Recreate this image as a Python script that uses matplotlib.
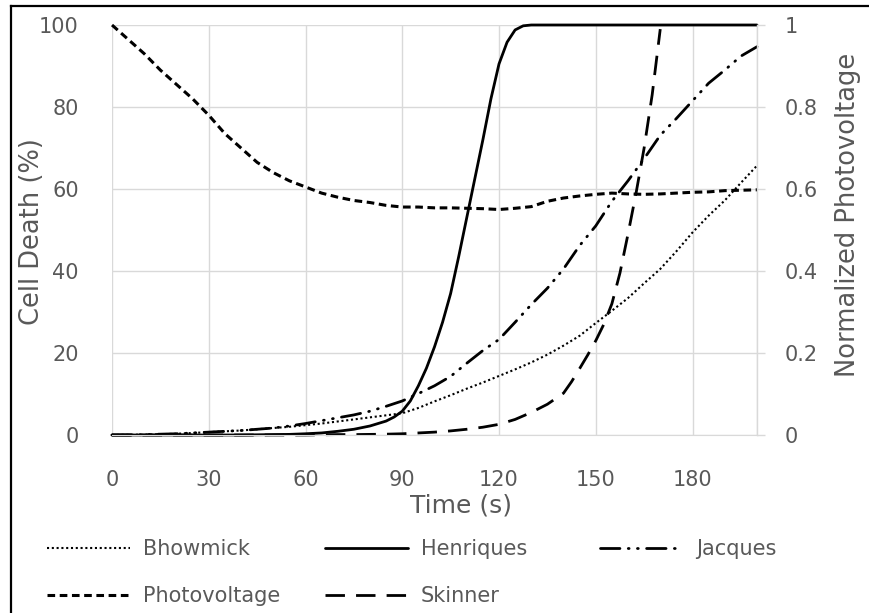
import matplotlib
matplotlib.use("Agg")
import matplotlib.pyplot as plt
from matplotlib.lines import Line2D

# sample times (s)
time = [0, 5, 10, 15, 20, 25, 30, 35, 40, 45, 50, 55, 60, 65, 70, 75, 80, 85, 90, 95, 100,
        105, 110, 115, 120, 125, 130, 135, 140, 145, 150, 155, 160, 165, 170, 175, 180, 185,
        190, 195, 200]

# cell death (%) per model
bhowmick = [0, 0.05, 0.1, 0.2, 0.3, 0.5, 0.7, 0.9, 1.1, 1.4, 1.7, 2.0, 2.4, 2.8, 3.3, 3.8,
            4.3, 4.8, 5.3, 6.6, 8.2, 9.7, 11.3, 12.8, 14.4, 16.0, 17.7, 19.6, 21.8, 24.2,
            27.3, 30.3, 33.4, 37.0, 40.5, 44.8, 49.4, 53.5, 57.2, 61.5, 65.7]
jacques = [0, 0, 0.1, 0.2, 0.3, 0.5, 0.7, 0.9, 1.1, 1.4, 1.7, 2.2, 2.8, 3.5, 4.2, 4.9, 5.8,
           7.0, 8.3, 10.1, 12.0, 14.3, 17.5, 20.6, 23.3, 27.5, 31.8, 35.8, 40.5, 46.2, 51.0,
           57.0, 62.0, 67.4, 73.1, 77.2, 81.5, 85.8, 89.0, 92.4, 94.7]

# henriques sampled more densely through the steep rise
henriques_time = [0, 10, 20, 30, 40, 45, 50, 55, 60, 65, 70, 75, 80, 85, 87.5, 90, 92.5, 95,
                  97.5, 100, 102.5, 105, 107.5, 110, 112.5, 115, 117.5, 120, 122.5, 125,
                  127.5, 130, 140, 150, 160, 170, 180, 190, 200]
henriques = [0, 0, 0, 0, 0, 0.05, 0.1, 0.15, 0.3, 0.5, 0.9, 1.4, 2.2, 3.4, 4.4, 5.8, 8.3,
             12.0, 16.3, 21.5, 27.5, 34.5, 43.5, 53.0, 62.5, 72.0, 82.0, 90.5, 95.8, 98.8,
             99.8, 100, 100, 100, 100, 100, 100, 100, 100]

# skinner stops at 170 s
skinner_time = [0, 10, 20, 30, 40, 50, 60, 65, 70, 75, 80, 85, 90, 95, 100, 105, 110, 115,
                120, 125, 130, 135, 140, 142.5, 145, 147.5, 150, 152.5, 155, 157.5, 160,
                162.5, 165, 167.5, 170]
skinner = [0, 0, 0, 0, 0, 0, 0, 0.05, 0.1, 0.1, 0.15, 0.2, 0.3, 0.5, 0.7, 1.0, 1.4, 1.9,
           2.6, 3.8, 5.5, 7.5, 10.2, 13.0, 16.2, 19.5, 23.0, 27.0, 32.0, 39.5, 49.0, 59.0,
           70.0, 83.0, 99.0]

# normalized photovoltage (right axis)
photovoltage = [1.0, 0.965, 0.93, 0.89, 0.855, 0.82, 0.78, 0.735, 0.70, 0.665, 0.64, 0.62,
                0.605, 0.59, 0.58, 0.572, 0.567, 0.56, 0.556, 0.556, 0.554, 0.554, 0.553,
                0.552, 0.55, 0.553, 0.557, 0.57, 0.578, 0.583, 0.587, 0.59, 0.588, 0.587,
                0.588, 0.59, 0.592, 0.593, 0.596, 0.597, 0.598]

W, H = 869, 613
GREY = "#595959"
GRID = "#d9d9d9"

plt.rcParams["font.family"] = "DejaVu Sans"

fig = plt.figure(figsize=(W / 100, H / 100), dpi=100)

def fx(px):
    return px / W

def fy(py):
    return 1 - py / H

ax = fig.add_axes([fx(112), fy(435), fx(757) - fx(112), fy(25) - fy(435)])
ax2 = ax.twinx()

ax.set_xlim(0, 200)
ax.set_ylim(0, 100)
ax2.set_ylim(0, 1)

ax.set_xticks([0, 30, 60, 90, 120, 150, 180])
ax.set_yticks([0, 20, 40, 60, 80, 100])
ax2.set_yticks([0, 0.2, 0.4, 0.6, 0.8, 1.0])
ax2.set_yticklabels(["0", "0.2", "0.4", "0.6", "0.8", "1"])

ax.grid(True, color=GRID, linewidth=1.0)
ax.axvline(200, color=GRID, linewidth=1.0, zorder=0.5)
for a in (ax, ax2):
    for s in a.spines.values():
        s.set_visible(False)
ax2.spines["right"].set_visible(True)
ax2.spines["right"].set_color(GRID)
ax2.spines["right"].set_linewidth(1.0)
ax.spines["bottom"].set_visible(True)
ax.spines["bottom"].set_color(GRID)

ax.tick_params(axis="x", length=0, pad=25, labelsize=15, labelcolor=GREY)
ax.tick_params(axis="y", length=0, pad=24, labelsize=15, labelcolor=GREY)
ax2.tick_params(axis="y", length=6, width=1.0, color=GRID, pad=14, labelsize=15,
                labelcolor=GREY)

lw = 2.0
l_bh, = ax.plot(time, bhowmick, color="black", linewidth=1.5, linestyle=(0, (1, 1.3)),
                clip_on=False)
l_he, = ax.plot(henriques_time, henriques, color="black", linewidth=lw,
                solid_capstyle="round", solid_joinstyle="round", clip_on=False)
l_ja, = ax.plot(time, jacques, color="black", linewidth=lw,
                linestyle=(0, (7, 3, 0.3, 3, 0.3, 3)), dash_capstyle="round", clip_on=False)
l_sk, = ax.plot(skinner_time, skinner, color="black", linewidth=lw,
                linestyle=(0, (7, 4)), clip_on=False)
l_pv, = ax2.plot(time, photovoltage, color="black", linewidth=2.2,
                 linestyle=(0, (2.5, 1.5)), clip_on=False)

# axis titles
fig.text(fx(32), fy(232), "Cell Death (%)", rotation=90, ha="center", va="center",
         fontsize=18.5, color=GREY)
fig.text(fx(848), fy(215), "Normalized Photovoltage", rotation=90, ha="center",
         va="center", fontsize=18.5, color=GREY)
fig.text(fx(461), fy(505), "Time (s)", ha="center", va="center", fontsize=18,
         color=GREY)

# legend laid out as three columns
columns = [
    (47, [l_bh, l_pv], ["Bhowmick", "Photovoltage"]),
    (325, [l_he, l_sk], ["Henriques", "Skinner"]),
    (600, [l_ja], ["Jacques"]),
]
for x0, handles, labels in columns:
    leg = fig.legend(handles, labels, loc="upper left",
                     bbox_to_anchor=(fx(x0), fy(539)), frameon=False,
                     fontsize=15, handlelength=4.0, handletextpad=0.6,
                     labelspacing=1.3, borderpad=0, borderaxespad=0)
    for t in leg.get_texts():
        t.set_color(GREY)

# outer frame edges
fig.add_artist(Line2D([fx(11), fx(11)], [fy(6), 0], color="black", linewidth=1.6,
                      transform=fig.transFigure))
fig.add_artist(Line2D([fx(11), 1], [fy(6), fy(6)], color="black", linewidth=1.6,
                      transform=fig.transFigure))

fig.savefig("out.png", dpi=100)
